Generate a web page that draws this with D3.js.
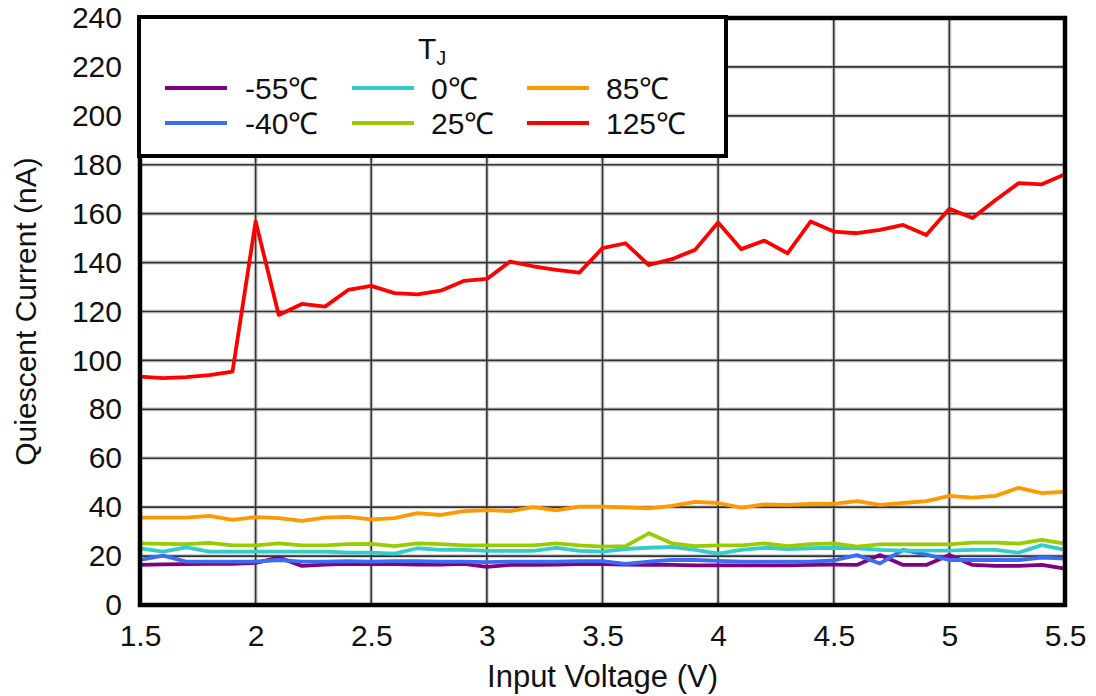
<!DOCTYPE html>
<html lang="en">
  <head>
    <meta charset="utf-8">
    <title>Quiescent Current vs Input Voltage</title>
    <script src="https://d3js.org/d3.v7.min.js"></script>
    <style>
      body { margin: 0; background: #fff; }
      text { font-family: "Liberation Sans", Arial, sans-serif; fill: #111; }
    </style>
  </head>
  <body>
    <script>
      // input voltage, 0.1 V steps
      const voltage = d3.range(41).map(i => +(1.5 + i * 0.1).toFixed(1));

      const iq_m55 = [16.4, 16.6, 16.7, 16.8, 16.8, 17.2, 19.4, 16.0, 16.5, 16.8, 16.7,
                      16.7, 16.5, 16.5, 16.8, 15.6, 16.4, 16.4, 16.5, 16.7, 16.7,
                      16.5, 16.4, 16.4, 16.2, 16.2, 16.2, 16.2, 16.2, 16.4, 16.5,
                      16.4, 20.4, 16.4, 16.4, 20.4, 16.4, 16.0, 16.0, 16.4, 14.9];
      const iq_m40 = [18.4, 20.2, 17.7, 17.7, 17.7, 17.7, 18.4, 17.7, 17.7, 17.9, 17.7,
                      17.9, 17.9, 17.7, 17.7, 17.5, 17.7, 17.7, 17.7, 17.9, 17.9,
                      16.8, 17.7, 18.4, 18.4, 18.0, 17.7, 17.7, 17.7, 17.7, 18.2,
                      20.4, 17.0, 22.5, 20.6, 18.4, 18.4, 18.4, 18.4, 19.4, 19.0];
      const iq_0 = [23.2, 21.8, 23.6, 21.8, 21.8, 21.8, 21.8, 21.8, 21.8, 21.4, 21.4,
                    21.0, 23.2, 22.5, 22.5, 22.1, 22.1, 22.1, 23.4, 22.1, 21.8,
                    22.9, 23.4, 23.8, 22.5, 21.0, 22.5, 23.4, 22.9, 23.2, 23.4,
                    23.2, 22.5, 22.2, 22.2, 22.2, 22.5, 22.5, 21.4, 24.5, 22.5];
      const iq_25 = [25.2, 25.0, 24.9, 25.4, 24.4, 24.4, 25.2, 24.4, 24.4, 24.9, 25.0,
                     24.1, 25.2, 24.9, 24.4, 24.4, 24.4, 24.4, 25.2, 24.4, 23.9,
                     24.1, 29.3, 25.2, 24.1, 24.4, 24.4, 25.2, 24.1, 24.9, 25.2,
                     23.9, 24.8, 24.8, 24.8, 24.8, 25.5, 25.5, 25.1, 26.6, 25.1];
      const iq_85 = [35.7, 35.7, 35.7, 36.4, 34.8, 35.9, 35.5, 34.4, 35.7, 36.0, 35.0,
                     35.5, 37.6, 36.8, 38.4, 38.8, 38.4, 40.0, 38.7, 40.2, 40.2,
                     39.9, 39.5, 40.5, 42.2, 41.7, 39.8, 41.1, 40.9, 41.3, 41.3,
                     42.5, 40.9, 41.7, 42.5, 44.6, 43.9, 44.6, 47.9, 45.7, 46.3];
      const iq_125 = [93.4, 92.8, 93.2, 94.0, 95.4, 156.8, 118.6, 123.1, 122.0, 128.8, 130.5,
                      127.5, 127.0, 128.5, 132.5, 133.3, 140.4, 138.5, 137.0, 135.9, 145.9,
                      147.9, 139.0, 141.4, 145.2, 156.4, 145.5, 149.0, 143.8, 156.8, 152.7,
                      152.0, 153.4, 155.4, 151.3, 162.0, 158.2, 165.6, 172.5, 172.0, 176.1];

      const seriesNames = ['-55℃', '-40℃', '0℃', '25℃', '85℃', '125℃'];
      const seriesColors = ['#800080', '#3a6cf4', '#33cccc', '#99cc00', '#ff9900', '#ff0000'];
      const seriesValues = [iq_m55, iq_m40, iq_0, iq_25, iq_85, iq_125];

      const xTicks = [1.5, 2, 2.5, 3, 3.5, 4, 4.5, 5, 5.5];
      const yTicks = d3.range(0, 241, 20);

      const width = 1096, height = 696;
      const margin = { left: 140, right: 31, top: 18, bottom: 91 };

      const svg = d3.select('body').append('svg')
          .attr('width', width)
          .attr('height', height);

      const x = d3.scaleLinear().domain([1.5, 5.5]).range([margin.left, width - margin.right]);
      const y = d3.scaleLinear().domain([0, 240]).range([height - margin.bottom, margin.top]);

      // grid: soft halo under a dark line
      const grid = svg.append('g');
      [['#d4d4d4', 4], ['#333', 1.6]].forEach(([c, w]) => {
        grid.append('g').selectAll('line').data(xTicks).join('line')
            .attr('x1', d => x(d)).attr('x2', d => x(d))
            .attr('y1', y(240)).attr('y2', y(0))
            .attr('stroke', c).attr('stroke-width', w);
        grid.append('g').selectAll('line').data(yTicks).join('line')
            .attr('x1', x(1.5)).attr('x2', x(5.5))
            .attr('y1', d => y(d)).attr('y2', d => y(d))
            .attr('stroke', c).attr('stroke-width', w);
      });

      // data lines
      const line = d3.line()
          .x((d, i) => x(voltage[i]))
          .y(d => y(d));

      svg.append('g').selectAll('path')
          .data(seriesValues)
          .join('path')
          .attr('d', line)
          .attr('fill', 'none')
          .attr('stroke', (d, i) => seriesColors[i])
          .attr('stroke-width', 3.8)
          .attr('stroke-linejoin', 'round');

      // frame
      svg.append('rect')
          .attr('x', x(1.5)).attr('y', y(240))
          .attr('width', x(5.5) - x(1.5)).attr('height', y(0) - y(240))
          .attr('fill', 'none').attr('stroke', '#000').attr('stroke-width', 4.5);

      // axes (labels only)
      const xAxis = svg.append('g')
          .attr('transform', `translate(0,${y(0)})`)
          .call(d3.axisBottom(x).tickValues(xTicks).tickSize(0).tickPadding(20).tickFormat(d3.format('')));
      const yAxis = svg.append('g')
          .attr('transform', `translate(${x(1.5)},0)`)
          .call(d3.axisLeft(y).tickValues(yTicks).tickSize(0).tickPadding(18));
      [xAxis, yAxis].forEach(a => {
        a.select('.domain').remove();
        a.selectAll('text')
            .attr('font-family', '"Liberation Sans", Arial, sans-serif')
            .attr('font-size', 30)
            .attr('fill', '#111');
      });

      svg.append('text')
          .attr('x', x(3.5)).attr('y', 687)
          .attr('text-anchor', 'middle')
          .attr('font-size', 31)
          .text('Input Voltage (V)');

      svg.append('text')
          .attr('transform', `translate(36,${(y(0) + y(240)) / 2}) rotate(-90)`)
          .attr('text-anchor', 'middle')
          .attr('font-size', 30)
          .text('Quiescent Current (nA)');

      // legend
      const legend = svg.append('g');
      legend.append('rect')
          .attr('x', 139).attr('y', 17).attr('width', 587).attr('height', 139)
          .attr('fill', '#fff').attr('stroke', '#000').attr('stroke-width', 4);

      const tj = legend.append('text')
          .attr('x', 418).attr('y', 59)
          .attr('font-size', 30);
      tj.append('tspan').text('T');
      tj.append('tspan').attr('font-size', 20).attr('dy', 6).text('J');

      const colX = [165, 352, 527];
      const rowY = [88, 123];
      const item = legend.selectAll('g.item')
          .data(seriesNames)
          .join('g')
          .attr('transform', (d, i) => `translate(${colX[Math.floor(i / 2)]},${rowY[i % 2]})`);
      item.append('line')
          .attr('x1', 0).attr('x2', 62)
          .attr('stroke', (d, i) => seriesColors[i])
          .attr('stroke-width', 3.8);
      item.append('text')
          .attr('x', (d, i) => i < 2 ? 80 : 79)
          .attr('dy', '0.36em')
          .attr('font-size', 30)
          .text(d => d);
    </script>
  </body>
</html>
